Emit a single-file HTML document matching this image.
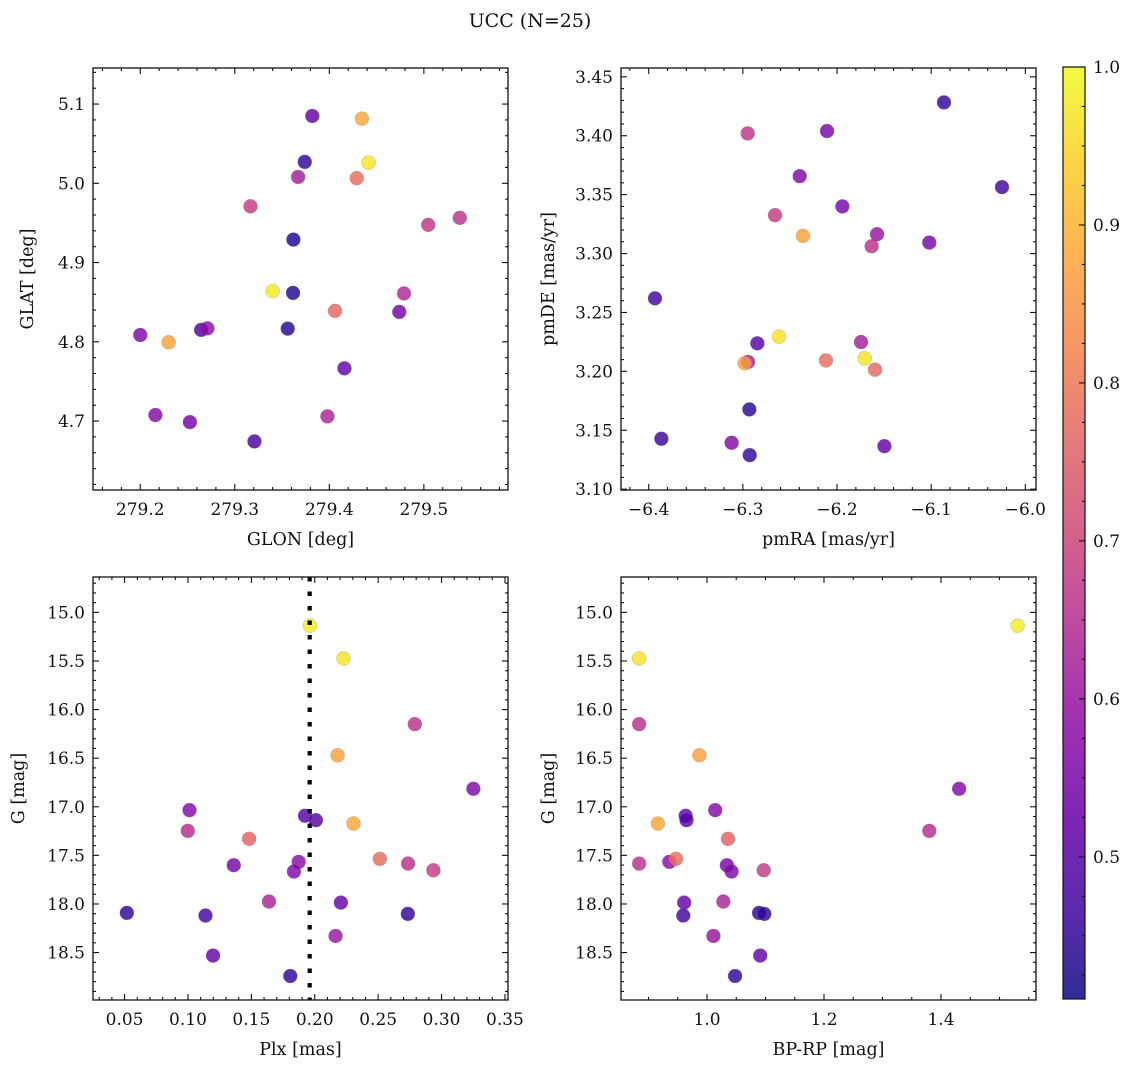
<!DOCTYPE html>
<html><head><meta charset="utf-8"><style>
html,body{margin:0;padding:0;background:#fff}
svg text{font-family:"DejaVu Serif","Liberation Serif",serif;fill:#111}
</style></head><body>
<svg id="fig" width="1136" height="1067" viewBox="0 0 1136 1067" xmlns="http://www.w3.org/2000/svg">
<defs><linearGradient id="plasmaGrad" x1="0" y1="1" x2="0" y2="0"></linearGradient></defs>
<text x="530" y="27" text-anchor="middle" font-size="19">UCC (N=25)</text>
</svg>
<script>
// Panel 1: GLON / GLAT
const glon = [279.382,279.4345,279.374,279.4415,279.367,279.429,279.3166,279.5046,279.538,279.362,279.34,279.3616,279.479,279.406,279.474,279.2644,279.271,279.356,279.2,279.23,279.416,279.216,279.2525,279.398,279.3208];
const glat = [5.085,5.0815,5.027,5.026,5.008,5.0065,4.971,4.9476,4.9564,4.929,4.864,4.8617,4.861,4.839,4.8377,4.815,4.817,4.8166,4.8086,4.7994,4.7665,4.7076,4.6987,4.7059,4.6743];
const probPos = [0.52,0.88,0.45,0.97,0.62,0.78,0.68,0.67,0.66,0.43,0.98,0.43,0.64,0.77,0.54,0.48,0.58,0.44,0.56,0.87,0.52,0.57,0.54,0.63,0.48];
// Panel 2: pmRA / pmDE
const pmra = [-6.0864,-6.2106,-6.2949,-6.2396,-6.0248,-6.1943,-6.2658,-6.2361,-6.1575,-6.1632,-6.102,-6.3933,-6.2616,-6.2846,-6.1745,-6.2945,-6.298,-6.2117,-6.1706,-6.1596,-6.2931,-6.3865,-6.3119,-6.2927,-6.1497];
const pmde = [3.4283,3.404,3.402,3.3657,3.3564,3.340,3.3326,3.315,3.3164,3.3062,3.3093,3.262,3.2295,3.2238,3.2249,3.208,3.2068,3.2093,3.211,3.2014,3.1677,3.1428,3.1394,3.1289,3.1365];
const probPm = [0.45,0.55,0.67,0.56,0.47,0.55,0.68,0.87,0.6,0.66,0.55,0.47,0.97,0.5,0.62,0.62,0.87,0.78,0.97,0.77,0.44,0.46,0.57,0.45,0.52];
// Panels 3 & 4: photometry
const gmag = [15.137,15.474,16.150,16.470,16.815,17.035,17.093,17.138,17.172,17.248,17.330,17.601,17.567,17.666,17.536,17.584,17.653,17.975,17.986,18.092,18.119,18.102,18.329,18.531,18.741];
const plx = [0.1962,0.2227,0.2789,0.218,0.3251,0.1012,0.1923,0.2009,0.2306,0.0999,0.1482,0.1361,0.1873,0.1836,0.2513,0.2736,0.2936,0.1639,0.2206,0.0518,0.1138,0.2734,0.2164,0.1198,0.1807];
const bprp = [1.531,0.884,0.884,0.987,1.431,1.014,0.9635,0.965,0.916,1.380,1.036,1.034,0.9356,1.042,0.947,0.884,1.097,1.028,0.961,1.089,0.9595,1.098,1.011,1.091,1.048];
const probPh = [0.98,0.97,0.66,0.87,0.56,0.57,0.5,0.5,0.88,0.65,0.76,0.55,0.58,0.56,0.78,0.66,0.68,0.63,0.52,0.45,0.47,0.45,0.6,0.52,0.45];
const plxLine = [0.196];
const cbTicks = [0.5,0.6,0.7,0.8,0.9,1.0];
const cbRange = [0.41,1.0];

const NS='http://www.w3.org/2000/svg';
const svg=document.getElementById('fig');
function mk(tag,attrs,parent){const e=document.createElementNS(NS,tag);for(const k in attrs)e.setAttribute(k,attrs[k]);(parent||svg).appendChild(e);return e;}

const plasma=[[13,8,135],[65,4,157],[106,0,168],[143,13,164],[177,42,144],[204,71,120],[225,100,98],[242,132,75],[252,166,54],[252,206,37],[240,249,33]];
function cmap(t){t=Math.max(0,Math.min(1,t));const f=t*10,i=Math.min(9,Math.floor(f)),r=f-i;const a=plasma[i],b=plasma[i+1];return 'rgb('+[0,1,2].map(k=>Math.round(a[k]+(b[k]-a[k])*r)).join(',')+')';}
function pcol(p){return cmap((p-cbRange[0])/(cbRange[1]-cbRange[0]));}

function fmt(v,d){let s=v.toFixed(d);if(s.startsWith('-'))s='\u2212'+s.slice(1);return s;}

function panel(cfg){
  const g=mk('g',{});
  
  
  const sx=v=>cfg.x0+(v-cfg.xmin)/(cfg.xmax-cfg.xmin)*(cfg.x1-cfg.x0);
  const sy=v=>cfg.y0+(v-cfg.yTop)/(cfg.yBot-cfg.yTop)*(cfg.y1-cfg.y0);
  const tg=mk('g',{stroke:'#111','stroke-width':1.1},g);
  
  
  const lo=Math.min(cfg.xmin,cfg.xmax),hi=Math.max(cfg.xmin,cfg.xmax);
  const nMinX=Math.round(cfg.xMajor/cfg.xMinor);
  for(let k=Math.ceil(lo/cfg.xMinor-1e-6);k*cfg.xMinor<=hi+1e-9;k++){
    const v=k*cfg.xMinor,x=sx(v);const major=Math.abs(k%nMinX)===0;const L=major?6:3;
    mk('line',{x1:x,x2:x,y1:cfg.y1,y2:cfg.y1-L},tg);mk('line',{x1:x,x2:x,y1:cfg.y0,y2:cfg.y0+L},tg);
    if(major){const t=mk('text',{x:x,y:cfg.y1+25,'text-anchor':'middle','font-size':17,stroke:'none'},g);t.textContent=fmt(v,cfg.xDec);
      
      }
  }
  const ylo=Math.min(cfg.yTop,cfg.yBot),yhi=Math.max(cfg.yTop,cfg.yBot);
  const nMinY=Math.round(cfg.yMajor/cfg.yMinor);
  for(let k=Math.ceil(ylo/cfg.yMinor-1e-6);k*cfg.yMinor<=yhi+1e-9;k++){
    const v=k*cfg.yMinor,y=sy(v);const major=Math.abs(k%nMinY)===0;const L=major?6:3;
    mk('line',{x1:cfg.x0,x2:cfg.x0+L,y1:y,y2:y},tg);mk('line',{x1:cfg.x1,x2:cfg.x1-L,y1:y,y2:y},tg);
    if(major){const t=mk('text',{x:cfg.x0-8,y:y+6,'text-anchor':'end','font-size':17,stroke:'none'},g);t.textContent=fmt(v,cfg.yDec);
      
      }
  }
  for(let i=0;i<cfg.xs.length;i++){
    const c=mk('circle',{cx:sx(cfg.xs[i]),cy:sy(cfg.ys[i]),r:7,fill:pcol(cfg.ps[i]),'fill-opacity':0.82,stroke:'#777','stroke-opacity':0.35,'stroke-width':0.6},g);
    
    
  }
  if(cfg.vline){for(const v of cfg.vline){const l=mk('line',{x1:sx(v),x2:sx(v),y1:cfg.y0,y2:cfg.y1,stroke:'#000','stroke-width':4.2,'stroke-dasharray':'4.5 10'},g);
    
    }}
  const fr=mk('rect',{x:cfg.x0,y:cfg.y0,width:cfg.x1-cfg.x0,height:cfg.y1-cfg.y0,fill:'none',stroke:'#111','stroke-width':1.3},g);
  
  
  const xl=mk('text',{x:(cfg.x0+cfg.x1)/2,y:cfg.y1+55,'text-anchor':'middle','font-size':17.5},g);xl.textContent=cfg.xlabel;
  
  
  const yc=(cfg.y0+cfg.y1)/2,yx=cfg.x0-cfg.ylabOff;
  const yl=mk('text',{x:yx,y:yc,'text-anchor':'middle','font-size':17.5,transform:'rotate(-90 '+yx+' '+yc+')'},g);yl.textContent=cfg.ylabel;
  
  
}

panel({name:'glon-glat-panel',x0:93,x1:508,y0:68,y1:490,xmin:279.15,xmax:279.589,yTop:5.1455,yBot:4.613,xMajor:0.1,xMinor:0.02,yMajor:0.1,yMinor:0.02,xDec:1,yDec:1,xs:glon,ys:glat,ps:probPos,xlabel:'GLON [deg]',ylabel:'GLAT [deg]',ylabOff:60});
panel({name:'proper-motion-panel',x0:621,x1:1036,y0:68,y1:490,xmin:-6.4294,xmax:-5.9887,yTop:3.4575,yBot:3.0993,xMajor:0.1,xMinor:0.02,yMajor:0.05,yMinor:0.01,xDec:1,yDec:2,xs:pmra,ys:pmde,ps:probPm,xlabel:'pmRA [mas/yr]',ylabel:'pmDE [mas/yr]',ylabOff:67});
panel({name:'plx-g-panel',x0:93,x1:508,y0:577,y1:1000,xmin:0.0251,xmax:0.3524,yTop:14.636,yBot:18.988,xMajor:0.05,xMinor:0.01,yMajor:0.5,yMinor:0.1,xDec:2,yDec:1,xs:plx,ys:gmag,ps:probPh,vline:plxLine,xlabel:'Plx [mas]',ylabel:'G [mag]',ylabOff:69});
panel({name:'cmd-panel',x0:621,x1:1036,y0:577,y1:1000,xmin:0.853,xmax:1.5624,yTop:14.636,yBot:18.988,xMajor:0.2,xMinor:0.05,yMajor:0.5,yMinor:0.1,xDec:1,yDec:1,xs:bprp,ys:gmag,ps:probPh,xlabel:'BP-RP [mag]',ylabel:'G [mag]',ylabOff:67});

const grad=document.getElementById('plasmaGrad');
for(let i=0;i<=20;i++){const t=i/20;mk('stop',{offset:t,'stop-color':cmap(t)},grad);}
const cb=mk('g',{});


const cbx=1063,cbw=22,cby0=67,cby1=999;
const cbr=mk('rect',{x:cbx,y:cby0,width:cbw,height:cby1-cby0,fill:'url(#plasmaGrad)','fill-opacity':0.85,stroke:'#111','stroke-width':1.2},cb);


const cy=v=>cby1-(v-cbRange[0])/(cbRange[1]-cbRange[0])*(cby1-cby0);
for(let k=Math.ceil(cbRange[0]/0.025);k*0.025<=cbRange[1]+1e-9;k++){
  const v=k*0.025,y=cy(v);const major=k%4===0;
  mk('line',{x1:cbx+cbw,x2:cbx+cbw-(major?6:3),y1:y,y2:y,stroke:'#111','stroke-width':1.1},cb);
}
for(const v of cbTicks){const t=mk('text',{x:cbx+cbw+8,y:cy(v)+6,'font-size':17},cb);t.textContent=v.toFixed(1);
  
  }
</script>
</body></html>
